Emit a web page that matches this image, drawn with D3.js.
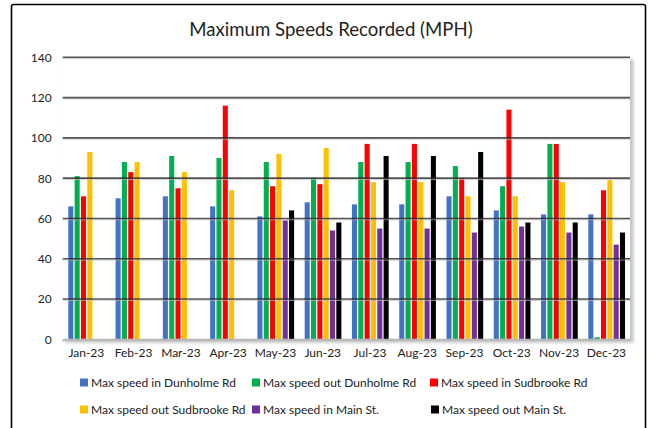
<!DOCTYPE html>
<html><head><meta charset="utf-8">
<script src="https://cdn.jsdelivr.net/npm/d3@7"></script>
<style>
html,body{margin:0;padding:0;background:#fff;}
svg{display:block;font-family:Lato,"Open Sans",sans-serif;}
</style></head>
<body>
<svg id="c" width="651" height="428"></svg>
<script>
const months = ["Jan-23","Feb-23","Mar-23","Apr-23","May-23","Jun-23","Jul-23","Aug-23","Sep-23","Oct-23","Nov-23","Dec-23"];
const seriesNames = ["Max speed in Dunholme Rd","Max speed out Dunholme Rd","Max speed in Sudbrooke Rd","Max speed out Sudbrooke Rd","Max speed in Main St.","Max speed out Main St."];
const seriesColors = ["#4472C4","#00B050","#FF0000","#FFC000","#7030A0","#000000"];
const inDunholme   = [66,70,71,66,61,68,67,67,71,64,62,62];
const outDunholme  = [81,88,91,90,88,80,88,88,86,76,97,1];
const inSudbrooke  = [71,83,75,116,76,77,97,97,80,114,97,74];
const outSudbrooke = [93,88,83,74,92,95,78,78,71,71,78,79];
const inMain       = [null,null,null,null,59,54,55,55,53,56,53,47];
const outMain      = [null,null,null,null,64,58,91,91,93,58,58,53];
const yTicks = [0,20,40,60,80,100,120,140];
const seriesValues = [inDunholme,outDunholme,inSudbrooke,outSudbrooke,inMain,outMain];

const svg = d3.select("#c");
const L = 62.7, R = 630, T = 57.3, B = 339.3;

const defs = svg.append("defs");
const f = defs.append("filter").attr("id","sh").attr("x","-5%").attr("y","-5%").attr("width","110%").attr("height","110%");
f.append("feGaussianBlur").attr("stdDeviation",1.5);

// outer border
svg.append("rect").attr("x",11.5).attr("y",4.5).attr("width",634).attr("height",440)
  .attr("fill","#fff").attr("stroke","#000").attr("stroke-width",1.6).attr("rx",2);

// title
svg.append("text").attr("x",331).attr("y",36).attr("text-anchor","middle")
  .attr("font-size",18.6).attr("fill","#222").text("Maximum Speeds Recorded (MPH)");

const x = d3.scaleBand().domain(months).range([L,R]).paddingInner(0).paddingOuter(0);
const xs = d3.scaleBand().domain(d3.range(6)).range([5.6,42.3]).paddingInner(0.2).paddingOuter(0);
const y = d3.scaleLinear().domain([0,140]).range([B,T]);

// plot shadow
svg.append("rect").attr("x",L+2).attr("y",T+2).attr("width",R-L+1.5).attr("height",B-T+1.5)
  .attr("fill","#c4c4c4").attr("filter","url(#sh)");
svg.append("rect").attr("x",L).attr("y",T).attr("width",R-L).attr("height",B-T).attr("fill","#fff");

// bars
const g = svg.append("g");
seriesValues.forEach((vals,si)=>{
  g.selectAll(null).data(months.map((m,i)=>({m,v:vals[i]})).filter(d=>d.v!=null))
   .enter().append("rect")
   .attr("x",d=>x(d.m)+xs(si)).attr("width",xs.bandwidth())
   .attr("y",d=>y(d.v)).attr("height",d=>y(0)-y(d.v))
   .attr("fill",seriesColors[si]);
});

// gridlines (on top)
const grid = svg.append("g");
yTicks.filter(t=>t>0).forEach(t=>{
  grid.append("line").attr("x1",L).attr("x2",R).attr("y1",y(t)+1.4).attr("y2",y(t)+1.4)
    .attr("stroke","#bbb").attr("stroke-width",1).attr("opacity",0.7);
  grid.append("line").attr("x1",L).attr("x2",R).attr("y1",y(t)).attr("y2",y(t))
    .attr("stroke","#2a2a2a").attr("stroke-width",1.6).attr("opacity",0.8);
});

// x axis
const xa = svg.append("g").attr("transform",`translate(0,${B})`)
  .call(d3.axisBottom(x).tickSize(0).tickPadding(9));
xa.select(".domain").attr("stroke","#b8b8b8").attr("stroke-width",2.2);
xa.selectAll("text").attr("font-size",12).attr("fill","#222").attr("font-family","Lato,sans-serif");
months.forEach(m=>{
  svg.append("line").attr("x1",x(m)).attr("x2",x(m)).attr("y1",B).attr("y2",B+3)
    .attr("stroke","#c8c8c8").attr("stroke-width",1);
});

// y axis
const ya = svg.append("g").attr("transform",`translate(${L},0)`)
  .call(d3.axisLeft(y).tickValues(yTicks).tickSize(0).tickPadding(11));
ya.select(".domain").remove();
ya.selectAll("text").attr("font-size",12).attr("fill","#222").attr("font-family","Lato,sans-serif");

// legend
const legPos = [[80,383],[252,383],[430,383],[80,410],[252,410],[431,410]];
seriesNames.forEach((n,i)=>{
  const [lx,ly] = legPos[i];
  svg.append("rect").attr("x",lx).attr("y",ly-4.5).attr("width",8).attr("height",8).attr("fill",seriesColors[i]);
  svg.append("text").attr("x",lx+11).attr("y",ly+4).attr("font-size",12).attr("fill","#222").text(n);
});
</script>
</body></html>
